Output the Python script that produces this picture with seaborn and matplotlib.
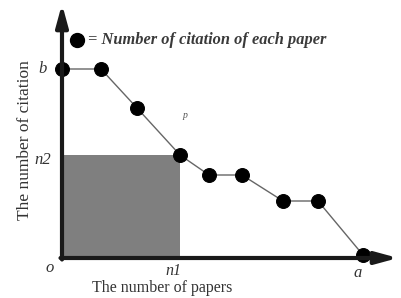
import matplotlib
matplotlib.use("Agg")
import matplotlib.pyplot as plt
import seaborn as sns
import pandas as pd
from matplotlib.patches import Rectangle

sns.set_theme(style="white")
plt.rcParams['font.family'] = ['Liberation Serif', 'DejaVu Serif']

# data (papers ranked by citation), arbitrary units
paper_pos = [0, 39, 75, 118, 147, 180, 221, 256, 301]
citations = [189, 189, 150, 103, 83, 83, 57, 57, 3]
n1_value = 118
n2_value = 103
axis_labels = {"x": "The number of papers", "y": "The number of citation"}
legend_text = "= Number of citation of each paper"

df = pd.DataFrame({"paper": paper_pos, "cites": citations})

fig = plt.figure(figsize=(4.01, 2.98), dpi=100)
ax = fig.add_axes([0, 0, 1, 1])
ax.set_xlim(-62, 401 - 62)
ax.set_ylim(-40, 258)
ax.axis("off")

# shaded h-core area
ax.add_patch(Rectangle((0, 0), n1_value, n2_value, facecolor="#7f7f7f",
                       edgecolor="none", zorder=1))

sns.lineplot(data=df, x="paper", y="cites", ax=ax, color="#666666", lw=1.0,
             marker="o", markersize=10, markerfacecolor="black",
             markeredgecolor="black", zorder=4, sort=False)

# axes with arrows
ax.annotate("", xy=(0, 254), xytext=(0, -1.5),
            arrowprops=dict(arrowstyle="-|>,head_length=1.1,head_width=0.3",
                            color="#1a1a1a", lw=3, shrinkA=0, shrinkB=0), zorder=5)
ax.annotate("", xy=(336, 0), xytext=(-1.5, 0),
            arrowprops=dict(arrowstyle="-|>,head_length=1.1,head_width=0.3",
                            color="#1a1a1a", lw=3, shrinkA=0, shrinkB=0), zorder=5)

# legend
ax.plot([15], [218], "o", color="black", markersize=10, zorder=6)
ax.text(26, 218, legend_text, fontsize=11.8, fontstyle="italic", fontweight="bold",
        color="#3a3a3a", va="center", ha="left")

tc = "#333333"
ax.text(-19, citations[0], "b", fontsize=12, fontstyle="italic", color=tc, ha="center", va="center")
ax.text(-19, n2_value - 5, "n2", fontsize=12, fontstyle="italic", color=tc, ha="center", va="center")
ax.text(-12, -10, "o", fontsize=12, fontstyle="italic", color=tc, ha="center", va="center")
ax.text(n1_value - 7, -13, "n1", fontsize=11.5, fontstyle="italic", color=tc, ha="center", va="center")
ax.text(paper_pos[-1] - 5, -15, "a", fontsize=12, fontstyle="italic", color=tc, ha="center", va="center")
ax.text(123, 143, "p", fontsize=7, fontstyle="italic", color="#555555", ha="center", va="center")

ax.text(100, -30, axis_labels["x"], fontsize=11.5, color=tc, ha="center", va="center")
ax.text(-37, 118, axis_labels["y"], fontsize=12.5, color=tc, ha="center", va="center",
        rotation=90)

fig.savefig("out.png", dpi=100)
